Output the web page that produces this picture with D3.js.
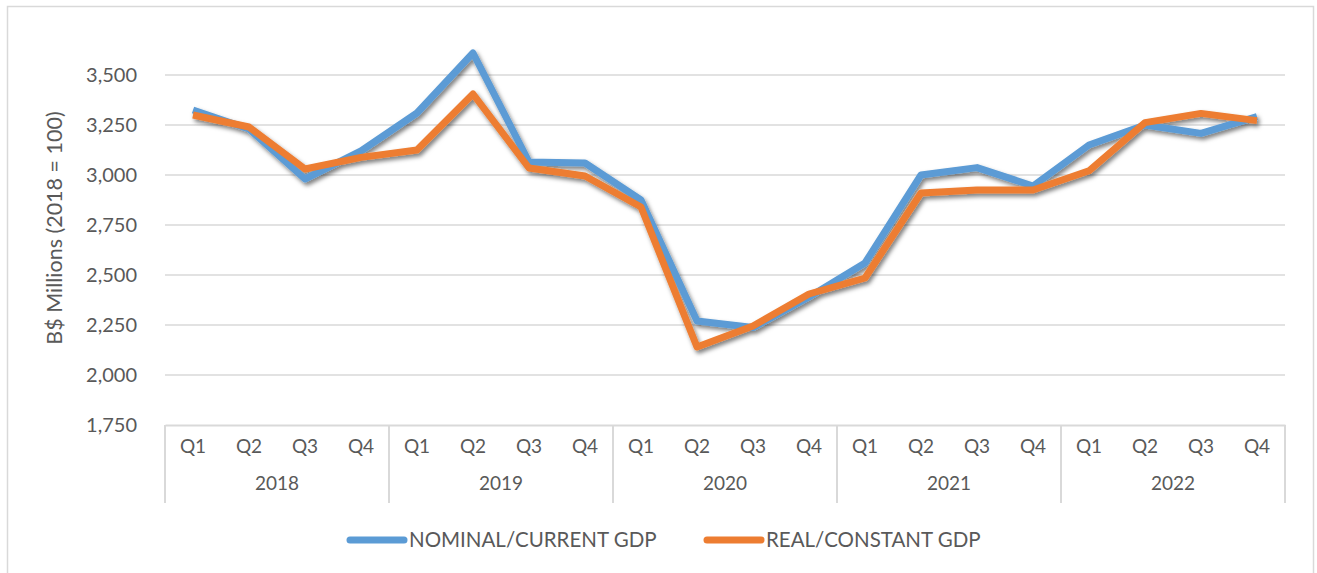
<!DOCTYPE html>
<html>
<head>
<meta charset="utf-8">
<script src="https://cdn.jsdelivr.net/npm/d3@7"></script>
<style>
  html, body { margin: 0; padding: 0; background: #fff; }
  svg text { font-family: Lato, "Open Sans", sans-serif; fill: #595959; }
</style>
</head>
<body>
<div id="chart"></div>
<script>
// quarters and years (multi-level category axis)
const years = ['2018', '2019', '2020', '2021', '2022'];
const quarters = ['Q1', 'Q2', 'Q3', 'Q4'];

// values, B$ millions
const nominalGdp = [3325, 3230, 2980, 3120, 3310, 3610, 3065, 3060, 2875, 2270,
                    2237, 2390, 2560, 3000, 3037, 2945, 3150, 3250, 3208, 3292];
const realGdp    = [3300, 3240, 3030, 3088, 3125, 3405, 3035, 2995, 2840, 2140,
                    2245, 2405, 2485, 2910, 2925, 2925, 3021, 3262, 3308, 3272];

const yTicks = [1750, 2000, 2250, 2500, 2750, 3000, 3250, 3500];

const series = [
  { name: 'NOMINAL/CURRENT GDP', values: nominalGdp, color: '#5B9BD5' },
  { name: 'REAL/CONSTANT GDP', values: realGdp, color: '#ED7D31' }
];

const width = 1317, height = 573;
const margin = { top: 25, right: 32, bottom: 148, left: 165 };
const innerW = width - margin.left - margin.right;
const innerH = height - margin.top - margin.bottom;

const cats = [];
years.forEach(y => quarters.forEach(q => cats.push(y + ' ' + q)));

const svg = d3.select('#chart').append('svg')
  .attr('width', width)
  .attr('height', height);

// drop shadow like the spreadsheet line effect
const defs = svg.append('defs');
const f = defs.append('filter').attr('id', 'shadow')
  .attr('x', '-5%').attr('y', '-5%').attr('width', '110%').attr('height', '120%');
f.append('feDropShadow')
  .attr('dx', 2).attr('dy', 3).attr('stdDeviation', 2.2)
  .attr('flood-color', '#000').attr('flood-opacity', 0.5);

// chart border
svg.append('rect')
  .attr('x', 7.5).attr('y', 6.5)
  .attr('width', 1306).attr('height', 580)
  .attr('fill', 'none').attr('stroke', '#d9d9d9').attr('stroke-width', 1.5);

const g = svg.append('g').attr('transform', `translate(${margin.left},${margin.top})`);

const x = d3.scaleBand().domain(cats).range([0, innerW]);
const y = d3.scaleLinear().domain([1750, 3750]).range([innerH, 0]);

// gridlines
g.append('g').selectAll('line')
  .data(yTicks.slice(1))
  .join('line')
  .attr('x1', 0).attr('x2', innerW)
  .attr('y1', d => y(d)).attr('y2', d => y(d))
  .attr('stroke', '#d9d9d9').attr('stroke-width', 1.5);

// y axis labels
const yAxis = g.append('g')
  .call(d3.axisLeft(y).tickValues(yTicks).tickSize(0).tickPadding(28).tickFormat(d3.format(',')));
yAxis.select('.domain').remove();
yAxis.selectAll('text').style('font-size', '20px').attr('fill', '#595959');

// y axis title
svg.append('text')
  .attr('transform', `translate(62,228) rotate(-90)`)
  .attr('text-anchor', 'middle')
  .style('font-size', '21.5px')
  .text('B$ Millions (2018 = 100)');

// category axis: quarter labels
const xAxis = g.append('g').attr('transform', `translate(0,${innerH})`)
  .call(d3.axisBottom(x).tickSize(0).tickPadding(15).tickFormat(d => d.split(' ')[1]));
xAxis.select('.domain').attr('stroke', '#d9d9d9').attr('stroke-width', 2);
xAxis.selectAll('text').style('font-size', '19px').attr('fill', '#595959');

// year separators and labels
const groupW = x.step() * quarters.length;
const seps = d3.range(years.length + 1).map(i => i * groupW);
g.append('g').selectAll('line')
  .data(seps)
  .join('line')
  .attr('x1', d => d).attr('x2', d => d)
  .attr('y1', innerH).attr('y2', innerH + 78)
  .attr('stroke', '#d9d9d9').attr('stroke-width', 2);

g.append('g').selectAll('text')
  .data(years)
  .join('text')
  .attr('x', (d, i) => i * groupW + groupW / 2)
  .attr('y', innerH + 65)
  .attr('text-anchor', 'middle')
  .style('font-size', '19px')
  .text(d => d);

// lines
const line = d3.line()
  .x((d, i) => x(cats[i]) + x.bandwidth() / 2)
  .y(d => y(d));

g.append('g').attr('filter', 'url(#shadow)')
  .selectAll('path')
  .data(series)
  .join('path')
  .attr('d', d => line(d.values))
  .attr('fill', 'none')
  .attr('stroke', d => d.color)
  .attr('stroke-width', 7)
  .attr('stroke-linejoin', 'round');

// legend
const legend = svg.append('g').selectAll('g')
  .data(series)
  .join('g')
  .attr('transform', (d, i) => `translate(${[350, 707][i]},540)`);
legend.append('line')
  .attr('x1', 0).attr('x2', 54)
  .attr('stroke', d => d.color)
  .attr('stroke-width', 7)
  .attr('stroke-linecap', 'round');
legend.append('text')
  .attr('x', 59).attr('dy', '0.36em')
  .style('font-size', '20.5px')
  .text(d => d.name);
</script>
</body>
</html>
